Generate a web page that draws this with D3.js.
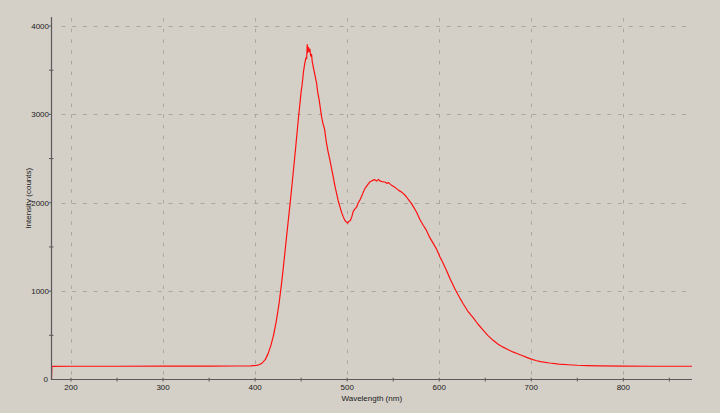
<!DOCTYPE html>
<html>
<head>
<meta charset="utf-8">
<script src="https://cdn.jsdelivr.net/npm/d3@7"></script>
<style>
  html, body { margin: 0; padding: 0; background: #d4d0c8; }
  svg { display: block; }
  text { font-family: "Liberation Sans", Arial, sans-serif; font-size: 8px; fill: #1a1a1a; }
</style>
</head>
<body>
<svg id="chart" width="720" height="413"></svg>
<script>
// ---- data ----
const wavelength = [
  178.8, 179.2, 200, 250, 300, 350, 380, 395, 401.7, 405, 408, 411, 414, 417, 420, 423, 426,
  429, 432, 435, 438, 441, 444, 447, 450, 451, 452.5, 454, 455.2,
  456, 456.6, 457.2, 457.8, 458.7, 459.5, 460.3, 461.3, 462, 463.1, 464.5, 465.5, 466.8, 468,
  469.6, 471, 472.2, 473, 473.6, 474.7, 475.5, 476.5, 477.6, 479, 481.2, 483, 484.8, 486.5,
  488.5, 490.3, 492.1, 494, 495.7, 497.5, 499.3, 500.5, 502, 503.5, 505, 506.5, 508.5, 510.2,
  512, 513.8, 515.6, 517.5, 519.2, 522, 524.6, 527, 530, 532, 534, 535.5, 538, 540.9, 543, 545,
  548.2, 551, 553.6, 556, 559, 562, 564.5, 567, 569.9, 572.5, 575.3, 579, 582.6, 586, 589.8,
  593.5, 597.1, 600.7, 604, 607.9, 612, 617, 621.5, 626, 631, 636.8, 642, 647.7, 653, 658.5,
  664, 669.4, 675, 680, 685, 690, 695, 700, 705, 710, 720, 730, 740, 750, 760, 775, 800,
  832.6, 874.6
];
const intensity = [
  0, 148, 150, 150, 151, 152, 153, 155, 160, 170, 190, 225, 290, 380, 500, 660, 860,
  1110, 1400, 1700, 1990, 2300, 2620, 2950, 3260, 3330, 3480, 3580, 3640,
  3630, 3790, 3700, 3760, 3712, 3740, 3660, 3680, 3600, 3540, 3470, 3420, 3352, 3250,
  3163, 3060, 2974, 2930, 2900, 2860, 2830, 2750, 2672, 2590, 2485, 2390, 2296, 2200,
  2107, 2020, 1956, 1890, 1843, 1800, 1780, 1770, 1790, 1800, 1840, 1900, 1930, 1950,
  2000, 2030, 2070, 2120, 2160, 2200, 2235, 2250, 2262, 2245, 2265, 2247, 2240, 2235, 2220, 2228,
  2197, 2180, 2160, 2140, 2122, 2095, 2065, 2030, 1990, 1945, 1896, 1810, 1745, 1690, 1605,
  1540, 1475, 1390, 1320, 1234, 1135, 1027, 940, 857, 775, 700, 628, 558, 497, 443,
  400, 366, 336, 312, 292, 272, 250, 230, 215, 203, 187, 175, 167, 161, 158, 155, 152,
  150, 150
];
const xMajorTicks = [200, 300, 400, 500, 600, 700, 800];
const xMinorTicks = [250, 350, 450, 550, 650, 750, 850];
const yMajorTicks = [0, 1000, 2000, 3000, 4000];
const yMinorTicks = [500, 1500, 2500, 3500];
const xDomain = [178.8, 874.6];
const yDomain = [0, 4102];
const xTitle = "Wavelength (nm)";
const yTitle = "Intensity (counts)";

// ---- layout ----
const mLeft = 51.5, mRight = 692, mTop = 17, mBottom = 379.5;
const svg = d3.select("#chart");

const x = d3.scaleLinear().domain(xDomain).range([mLeft, mRight]);
const y = d3.scaleLinear().domain(yDomain).range([mBottom, mTop]);

const gridColor = "#aaa7a0";
// vertical grid
svg.append("g").selectAll("line").data(xMajorTicks).join("line")
  .attr("x1", d => Math.round(x(d)) + 0.5).attr("x2", d => Math.round(x(d)) + 0.5)
  .attr("y1", mTop + 1).attr("y2", mBottom)
  .attr("stroke", gridColor).attr("stroke-width", 1)
  .attr("stroke-dasharray", "3.5,7.2");
// horizontal grid
svg.append("g").selectAll("line").data(yMajorTicks.filter(d => d > 0)).join("line")
  .attr("x1", mLeft + 10).attr("x2", mRight)
  .attr("y1", d => Math.round(y(d)) + 0.5).attr("y2", d => Math.round(y(d)) + 0.5)
  .attr("stroke", gridColor).attr("stroke-width", 1)
  .attr("stroke-dasharray", "4,6.7");

// data line
const pts = wavelength.map((w, i) => [w, intensity[i]]);
svg.append("path")
  .datum(pts)
  .attr("fill", "none")
  .attr("stroke", "#ff1010")
  .attr("stroke-width", 1.2)
  .attr("stroke-linejoin", "round")
  .attr("d", d3.line().x(d => x(d[0])).y(d => y(d[1])));

// axes lines
const axisColor = "#5a5a5a";
svg.append("line").attr("x1", mLeft).attr("x2", mLeft).attr("y1", mTop).attr("y2", mBottom + 0.5)
  .attr("stroke", axisColor).attr("stroke-width", 1.2);
svg.append("line").attr("x1", mLeft).attr("x2", mRight).attr("y1", mBottom).attr("y2", mBottom)
  .attr("stroke", axisColor).attr("stroke-width", 1.2);

// y ticks
svg.append("g").selectAll("line").data(yMajorTicks.filter(d => d > 0)).join("line")
  .attr("x1", mLeft - 2.5).attr("x2", mLeft)
  .attr("y1", d => y(d)).attr("y2", d => y(d))
  .attr("stroke", axisColor).attr("stroke-width", 1);
svg.append("g").selectAll("line").data(yMinorTicks).join("line")
  .attr("x1", mLeft - 2.5).attr("x2", mLeft + 2)
  .attr("y1", d => y(d)).attr("y2", d => y(d))
  .attr("stroke", axisColor).attr("stroke-width", 1);
// x ticks
svg.append("g").selectAll("line").data(xMajorTicks.concat(xMinorTicks)).join("line")
  .attr("x1", d => x(d)).attr("x2", d => x(d))
  .attr("y1", mBottom - 1.8).attr("y2", mBottom + 2)
  .attr("stroke", axisColor).attr("stroke-width", 1);

// y tick labels
svg.append("g").selectAll("text").data(yMajorTicks).join("text")
  .attr("x", d => d === 0 ? mLeft - 3.5 : mLeft - 2.5)
  .attr("y", d => y(d))
  .attr("dy", "0.35em")
  .attr("text-anchor", "end")
  .text(d => d);
// x tick labels
svg.append("g").selectAll("text").data(xMajorTicks).join("text")
  .attr("x", d => x(d))
  .attr("y", mBottom + 8)
  .attr("dy", "0.35em")
  .attr("text-anchor", "middle")
  .text(d => d);

// titles
svg.append("text")
  .attr("x", (mLeft + mRight) / 2).attr("y", 398.5)
  .attr("dy", "0.35em")
  .attr("text-anchor", "middle")
  .text(xTitle);
svg.append("text")
  .attr("transform", `translate(28.5, ${(mTop + mBottom) / 2}) rotate(-90)`)
  .attr("dy", "0.35em")
  .attr("text-anchor", "middle")
  .text(yTitle);
</script>
</body>
</html>
